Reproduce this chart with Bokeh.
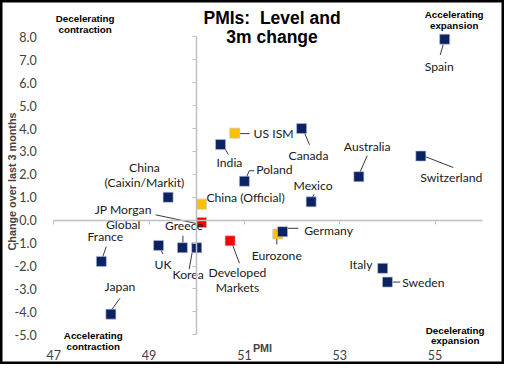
from bokeh.plotting import figure
from bokeh.models import (ColumnDataSource, LinearAxis, FixedTicker, Label,
                          Range1d, NumeralTickFormatter)
from bokeh.embed import file_html
from bokeh.resources import INLINE
from bokeh.core.properties import value
import math

# ---------------- data ----------------
names = ["Spain", "US ISM", "Canada", "India", "Poland", "Australia",
         "Switzerland", "Mexico", "China\n(Caixin/Markit)", "China (Official)",
         "JP Morgan\nGlobal", "Developed\nMarkets", "Eurozone", "Germany",
         "France", "UK", "Greece", "Korea", "Japan", "Italy", "Sweden"]
pmi = [55.2, 50.8, 52.2, 50.5, 51.0, 53.4, 54.7, 52.4, 49.4, 50.1,
       50.1, 50.7, 51.7, 51.8, 48.0, 49.2, 49.7, 50.0, 48.2, 53.9, 54.0]
chg = [7.9, 3.8, 4.0, 3.3, 1.7, 1.9, 2.8, 0.8, 1.0, 0.7,
       -0.1, -0.9, -0.6, -0.5, -1.8, -1.1, -1.2, -1.2, -4.1, -2.1, -2.7]
kind = ["country", "us", "country", "country", "country", "country",
        "country", "country", "country", "us",
        "aggregate", "aggregate", "us", "country",
        "country", "country", "country", "country", "country", "country", "country"]

x_ticks = [47, 49, 51, 53, 55]
y_ticks = [-5, -4, -3, -2, -1, 0, 1, 2, 3, 4, 5, 6, 7, 8]

title_lines = ["PMIs:\u00a0 Level and", "3m change"]
x_title = "PMI"
y_title = "Change over last 3 months"
quadrant_texts = ["Decelerating\ncontraction", "Accelerating\nexpansion",
                  "Accelerating\ncontraction", "Decelerating\nexpansion"]

# ---------------- styles / layout ----------------
NAVY = "#0B2263"
COLORS = {"country": NAVY, "us": "#FFC000", "aggregate": "#FF0000"}
LABEL_FONT = "Lato"
BOLD_FONT = "Liberation Sans"

W, H = 504, 364
AX_X0, AX_X1, AX_Y0, AX_Y1 = 47, 56, -5, 8        # inner axes extent
VX0, VX1, VY0, VY1 = 45.885, 56.455, -6.298, 9.589  # whole canvas extent
PX_X = W / (VX1 - VX0)
PX_Y = H / (VY1 - VY0)
SX, SY = W / 512, H / 380

# label placement: (dx, dy) in px from marker (dy down), alignment
label_pos = {
    "Spain": (-5.5, 28.5, "center"),
    "US ISM": (19, 0.5, "left"),
    "Canada": (7, 28, "center"),
    "India": (9, 18.5, "center"),
    "Poland": (12, -12, "left"),
    "Australia": (8.5, -31, "center"),
    "Switzerland": (31, 22, "center"),
    "Mexico": (2, -17, "center"),
    "China\n(Caixin/Markit)": (-24, -23, "center"),
    "China (Official)": (5, -7, "left"),
    "JP Morgan\nGlobal": (-79.5, -6, "center"),
    "Developed\nMarkets": (7.5, 41, "center"),
    "Eurozone": (-1, 23, "center"),
    "Germany": (22, -1.5, "left"),
    "France": (4, -26.5, "center"),
    "UK": (4.5, 20, "center"),
    "Greece": (1.5, -23.5, "center"),
    "Korea": (-8.7, 28.5, "center"),
    "Japan": (9.2, -28.5, "center"),
    "Italy": (-22, -4, "center"),
    "Sweden": (15, 0, "left"),
}
# leader lines in px offsets from marker (x0, y0, x1, y1), y down
leaders = {
    "Spain": [(-1.5, 5.5, -4.5, 16.5)],
    "US ISM": [(5, 0.5, 15, 0.5)],
    "Canada": [(2, 2, 8, 17)],
    "India": [(3, 1.5, 8, 10.5)],
    "Poland": [(2, -4, 5, -11), (5, -11, 10, -11)],
    "Australia": [(0.5, -3, 8.5, -22)],
    "Switzerland": [(3, 0, 33, 12)],
    "Mexico": [(1, -4, 3, -8)],
    "JP Morgan\nGlobal": [(-46.5, -8, -5.5, 1)],
    "Developed\nMarkets": [(1.5, 1.5, 9.5, 23.5)],
    "Eurozone": [(-1, 1, -1, 11)],
    "Germany": [(5, -3.5, 16, -3.5)],
    "France": [(1, -3.5, 5, -15.5)],
    "UK": [(1.5, 3, 4.5, 9)],
    "Greece": [(0.5, -12.5, 0.5, -4.5)],
    "Korea": [(-4.7, 5.5, -7.7, 22.5)],
    "Japan": [(0, -3.5, 9.2, -16.5)],
    "Sweden": [(5, 0, 13, 0)],
}

p = figure(width=W, height=H, x_range=Range1d(VX0, VX1), y_range=Range1d(VY0, VY1),
           x_axis_type=None, y_axis_type=None,
           output_backend="svg", toolbar_location=None,
           min_border_left=0, min_border_right=0,
           min_border_top=0, min_border_bottom=0)
p.outline_line_color = "#000000"
p.outline_line_width = 4
p.background_fill_color = "white"
p.border_fill_color = "white"

TICK_COLOR = "#404040"
# tick-label axes at the inner plot edges
xa = LinearAxis(fixed_location=AX_Y0, ticker=FixedTicker(ticks=x_ticks),
                axis_line_color=None, major_tick_line_color=None,
                minor_tick_line_color=None, major_label_standoff=9,
                major_label_text_font=LABEL_FONT, major_label_text_font_size="12.5px",
                major_label_text_color=TICK_COLOR)
p.add_layout(xa, "below")
ya = LinearAxis(fixed_location=AX_X0, ticker=FixedTicker(ticks=y_ticks),
                axis_line_color=None, major_tick_line_color=None,
                minor_tick_line_color=None,
                formatter=NumeralTickFormatter(format="0.0"),
                major_label_standoff=11, major_label_text_font=LABEL_FONT,
                major_label_text_font_size="12.5px", major_label_text_color=TICK_COLOR)
p.add_layout(ya, "left")

# crossing axes (PMI 50, change 0)
AX_COLOR = "#BFBFBF"
xc = LinearAxis(fixed_location=0, bounds=(AX_X0, AX_X1), ticker=FixedTicker(ticks=x_ticks),
                axis_line_color=AX_COLOR, axis_line_width=1.5,
                major_tick_line_color=AX_COLOR, major_tick_out=4, major_tick_in=0,
                minor_tick_line_color=None, major_label_text_color=None,
                major_label_text_font_size="1px", major_label_standoff=0)
p.add_layout(xc, "below")
yc = LinearAxis(fixed_location=50, bounds=(AX_Y0, AX_Y1), ticker=FixedTicker(ticks=y_ticks),
                axis_line_color=AX_COLOR, axis_line_width=1.5,
                major_tick_line_color=AX_COLOR, major_tick_out=4, major_tick_in=0,
                minor_tick_line_color=None, major_label_text_color=None,
                major_label_text_font_size="1px", major_label_standoff=0)
p.add_layout(yc, "left")

# leader lines
lx0, ly0, lx1, ly1 = [], [], [], []
for n, x, y in zip(names, pmi, chg):
    for (a, b, c, d) in leaders.get(n, []):
        lx0.append(x + a * SX / PX_X); ly0.append(y - b * SY / PX_Y)
        lx1.append(x + c * SX / PX_X); ly1.append(y - d * SY / PX_Y)
p.segment(lx0, ly0, lx1, ly1, line_color="#3A3A3A", line_width=1)

src = ColumnDataSource(dict(
    x=pmi, y=chg, name=names,
    color=[COLORS[k] for k in kind],
    dx=[label_pos[n][0] * SX for n in names],
    dy=[label_pos[n][1] * SY for n in names],
    align=[label_pos[n][2] for n in names],
))
p.scatter("x", "y", source=src, marker="square", size=10,
          fill_color="color", line_color="#B8C0D8", line_width=0.6)
p.text("x", "y", text="name", source=src, x_offset="dx", y_offset="dy",
       text_align="align", text_baseline="middle", text_font=value(LABEL_FONT),
       text_font_size="12.2px", text_color="#1A1A1A", text_line_height=1.02)

# title
for t, ty in zip(title_lines, [8.84, 8.0]):
    p.add_layout(Label(x=51.58, y=ty, text=t, text_align="center",
                       text_baseline="middle", text_font=BOLD_FONT,
                       text_font_style="bold", text_font_size="17.5px",
                       text_color="#000000"))

# quadrant annotations
quad_xy = [(47.66, 8.57), (55.40, 8.73), (47.83, -5.27), (55.42, -5.04)]
for t, (qx, qy) in zip(quadrant_texts, quad_xy):
    p.add_layout(Label(x=qx, y=qy, text=t, text_align="center",
                       text_baseline="middle", text_font=BOLD_FONT,
                       text_font_style="bold", text_font_size="9.8px",
                       text_line_height=0.95, text_color="#000000"))

# axis titles
p.add_layout(Label(x=51.38, y=-5.58, text=x_title, text_align="center",
                   text_baseline="middle", text_font=BOLD_FONT,
                   text_font_style="bold", text_font_size="10.8px"))
p.add_layout(Label(x=46.13, y=1.69, text=y_title, angle=math.pi / 2,
                   text_align="center", text_baseline="middle",
                   text_font=BOLD_FONT, text_font_style="bold",
                   text_font_size="10.8px"))

open("out.html", "w").write(file_html(p, INLINE))
